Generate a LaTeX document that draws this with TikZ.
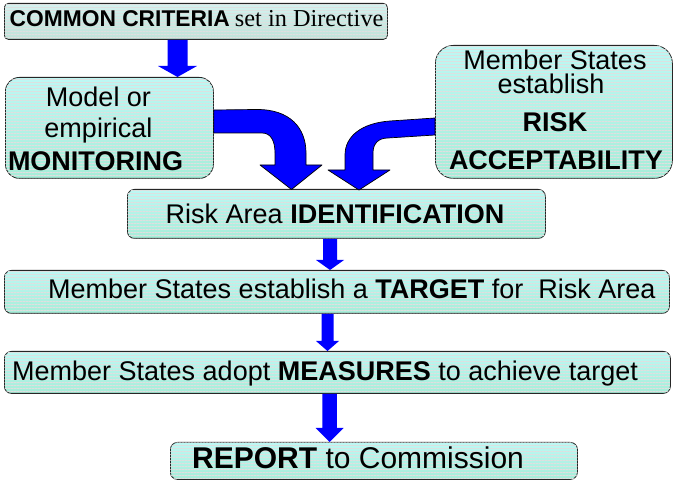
\documentclass[tikz,border=0pt]{standalone}
\usepackage{fontspec}
\setmainfont{Liberation Sans}
\newfontfamily\timesf{Liberation Serif}
\usetikzlibrary{calc,patterns.meta}
\definecolor{topc}{HTML}{BDF8F4}
\definecolor{midc}{HTML}{DCE6E3}
\definecolor{botc}{HTML}{A6EDD8}
\definecolor{cctop}{HTML}{D4F2F0}
\definecolor{ccmid}{HTML}{D6DAD9}
\definecolor{ccbot}{HTML}{BFE2D8}
\definecolor{arrowblue}{HTML}{0000FF}
\newcommand\mainsize{\fontsize{27}{30}\selectfont}
\newcommand\bluedown[5]{%
  \fill[arrowblue] let \p1=(#1), \p2=(#2) in
    (\x1-#3, \y1) -- (\x1+#3, \y1) -- (\x1+#3, \y2+#5) -- (\x1+#4, \y2+#5)
    -- (\x1, \y2) -- (\x1-#4, \y2+#5) -- (\x1-#3, \y2+#5) -- cycle;}
\tikzset{
  box/.style={draw=black!85, line width=0.8pt, inner sep=0pt, anchor=north west,
    top color=topc, middle color=midc, bottom color=botc,
    postaction={pattern={Lines[angle=0,distance=3pt,line width=0.35pt]}, pattern color=gray!25}},
  ccbox/.style={box, top color=cctop, middle color=ccmid, bottom color=ccbot},
  txt/.style={inner sep=0pt, anchor=base, text=black, font=\mainsize},
  curvearrow/.style={fill=arrowblue, draw=black, line width=0.7pt, line join=round}
}
\begin{document}
\begin{tikzpicture}[x=1pt, y=-1pt]
\useasboundingbox (0,0) rectangle (673,481);

% boxes
\node[ccbox, rounded corners=4pt, minimum width=383pt, minimum height=36pt] (cc) at (4,3) {};
\node[box, rounded corners=14pt, minimum width=208pt, minimum height=101pt] (mon) at (5,77) {};
\node[box, rounded corners=18pt, minimum width=237pt, minimum height=133pt] (acc) at (435,45) {};
\node[box, rounded corners=7pt, minimum width=418pt, minimum height=49pt] (risk) at (127,189) {};
\node[box, rounded corners=7pt, minimum width=665pt, minimum height=43pt] (target) at (4,270) {};
\node[box, rounded corners=7pt, minimum width=666pt, minimum height=42pt] (meas) at (4,351) {};
\node[box, rounded corners=7pt, minimum width=407pt, minimum height=37pt] (report) at (170,442) {};

% straight arrows
\bluedown{cc.south -| 177.5,0}{mon.north}{10pt}{19.5pt}{11pt}
\bluedown{risk.south -| 330,0}{target.north}{7pt}{14pt}{10pt}
\bluedown{target.south -| 327.5,0}{meas.north}{6pt}{11.5pt}{10pt}
\bluedown{meas.south -| 329.5,0}{report.north}{7.25pt}{14pt}{14pt}

% curved arrows
\draw[curvearrow] (mon.east |- 0,110) -- (256,109.5)
  .. controls (290,109) and (306,128) .. (306,153) -- (306,165) -- (322,165)
  -- (291.5,189.5) -- (260,165) -- (275,165) -- (275,153)
  .. controls (275,141) and (271,133) .. (262,133) -- (mon.east |- 0,133) -- cycle;
\draw[curvearrow] (acc.west |- 0,118) -- (390,121)
  .. controls (362,123) and (345,136) .. (345,155) -- (345,170) -- (328,170)
  -- (359,190) -- (390,170) -- (373,170) -- (373,153)
  .. controls (373,144) and (378,138) .. (388,138) -- (acc.west |- 0,135) -- cycle;

% texts
\node[txt, font=\normalsize] (cct) at (196.5,27)
  {{\fontsize{22.8}{26}\selectfont\bfseries COMMON CRITERIA}\hspace{5pt}{\timesf\fontsize{24.3}{28}\selectfont set in Directive}};
\node[txt] (mon1) at (98.5,107) {Model or};
\node[txt] (mon2) at (98.5,138) {empirical};
\node[txt] (mon3) at (95.5,171) {\bfseries MONITORING};
\node[txt] (acc1) at (555,70) {Member States};
\node[txt] (acc2) at (551,94) {establish};
\node[txt] (acc3) at (555,132) {\bfseries RISK};
\node[txt] (acc4) at (556,170) {\bfseries ACCEPTABILITY};
\node[txt] (riskt) at (335,224) {Risk Area \textbf{IDENTIFICATION}};
\node[txt, anchor=base west] (targett) at (48,299) {Member States establish a \textbf{TARGET} for\ \ Risk Area};
\node[txt, anchor=base west] (meast) at (12,381) {Member States adopt \textbf{MEASURES} to achieve target};
\node[txt, anchor=base west, font=\fontsize{30}{34}\selectfont] (reportt) at (192,468) {\textbf{REPORT} to Commission};
\end{tikzpicture}
\end{document}
